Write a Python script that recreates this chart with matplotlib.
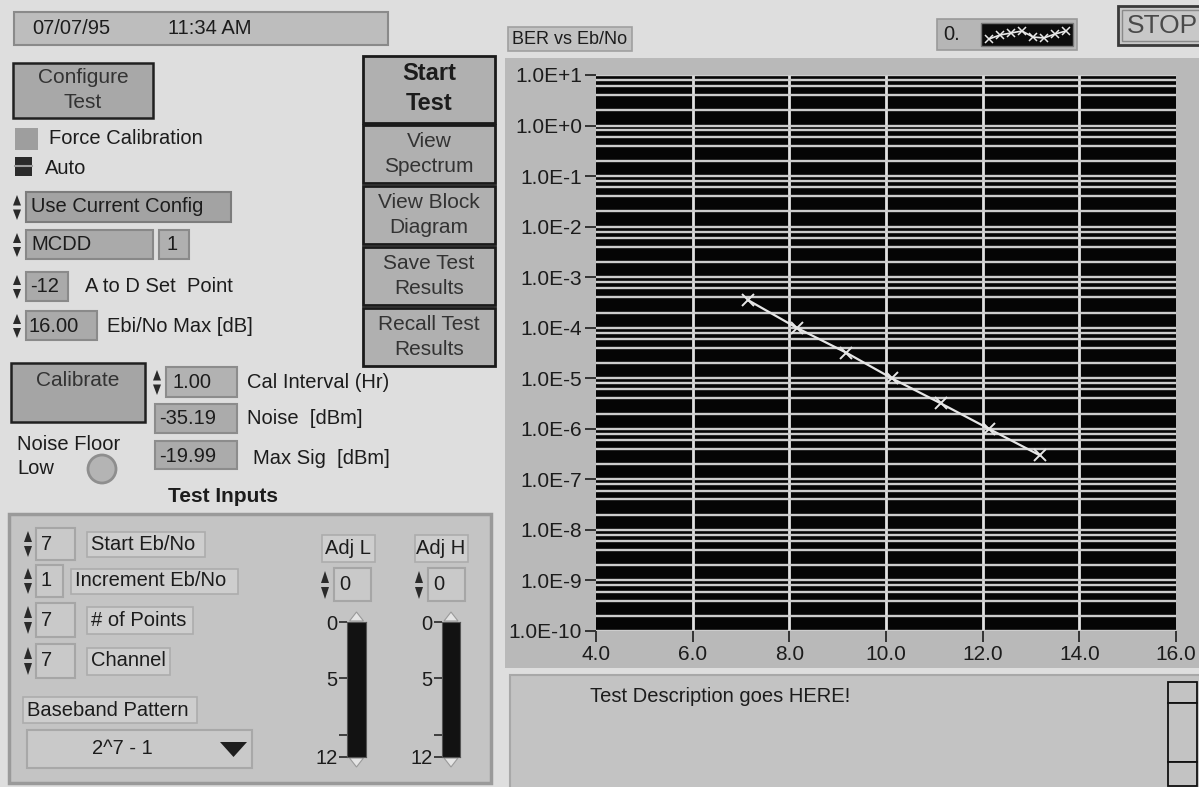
import numpy as np
import matplotlib
matplotlib.use("Agg")
import matplotlib.pyplot as plt
import matplotlib.patches as mpatches
from matplotlib import font_manager
from matplotlib.ticker import FixedLocator, FuncFormatter, NullFormatter

eb_no = [7.15, 8.15, 9.18, 10.12, 11.13, 12.13, 13.18]
ber = [3.5e-4, 1.0e-4, 3.2e-5, 1.0e-5, 3.2e-6, 1.0e-6, 3.0e-7]

x_ticks = [4.0, 6.0, 8.0, 10.0, 12.0, 14.0, 16.0]
y_exponents = list(range(1, -11, -1))
minor_subs = [2, 4, 6, 8]

slider_ticks = [0, 5, 10, 12]
slider_labels = ["0", "5", "", "12"]

side_buttons = ["View\nSpectrum", "View Block\nDiagram", "Save Test\nResults", "Recall Test\nResults"]
input_values = ["7", "1", "7", "7"]
input_names = ["Start Eb/No", "Increment Eb/No", "# of Points", "Channel"]

W, H = 1199, 787
BG = "#dedede"
PANEL = "#b9b9b9"
BTN = "#a8a8a8"
FIELD = "#b2b2b2"
INPUTS = "#c4c4c4"
LABELBOX = "#cecece"
INK = "#1c1c1c"

FONT = "Liberation Sans"
names = {f.name for f in font_manager.fontManager.ttflist}
NARROW = "Liberation Sans Narrow" if "Liberation Sans Narrow" in names else FONT
plt.rcParams["font.family"] = [FONT, "DejaVu Sans"]

fig = plt.figure(figsize=(W / 100, H / 100), dpi=100)
fig.patch.set_facecolor(BG)
ui = fig.add_axes([0, 0, 1, 1])
ui.set_xlim(0, W)
ui.set_ylim(H, 0)
ui.axis("off")


def rect(x0, y0, x1, y1, fc, ec="#6a6a6a", lw=1.0, z=1):
    ui.add_patch(mpatches.Rectangle((x0, y0), x1 - x0, y1 - y0, facecolor=fc,
                                    edgecolor=ec, linewidth=lw, zorder=z))


def label(x, y, s, size=14.5, ha="left", weight="normal", color=INK, family=None, ls=1.05):
    ui.text(x, y, s, fontsize=size, ha=ha, va="center", fontweight=weight,
            color=color, family=family or FONT, zorder=6, linespacing=ls)


def spinner(x, y0, y1):
    ym = (y0 + y1) / 2
    for tip, base in ((y0 + 3, ym - 2), (y1 - 3, ym + 2)):
        ui.add_patch(mpatches.Polygon([(x - 4, base), (x + 4, base), (x, tip)],
                                      closed=True, fc="#2a2a2a", ec="none", zorder=4))


def to_fig(x0, y0, x1, y1):
    return [x0 / W, 1 - y1 / H, (x1 - x0) / W, (y1 - y0) / H]


# ---- left column
rect(14, 12, 388, 45, "#bdbdbd", ec="#8a8a8a", lw=1.5)
label(32, 28, "07/07/95")
label(168, 28, "11:34 AM")

rect(13, 63, 153, 118, BTN, ec="#202020", lw=1.8)
label(83, 90, "Configure\nTest", ha="center", color="#333333", size=15, ls=1.4)

rect(15, 128, 38, 150, "#9e9e9e", ec="none")
label(49, 139, "Force Calibration")
rect(15, 157, 32, 176, "#2b2b2b", ec="none")
ui.plot([15, 32], [166, 166], color="#9e9e9e", lw=1.5, zorder=3)
label(45, 168, "Auto")

spinner(17, 192, 223)
rect(26, 192, 231, 222, "#a3a3a3", ec="#7c7c7c", lw=1.5)
label(31, 207, "Use Current Config")

spinner(17, 230, 260)
rect(26, 230, 153, 259, "#aaaaaa", ec="#888888", lw=1.5)
label(31, 245, "MCDD")
rect(159, 230, 189, 259, "#b0b0b0", ec="#8a8a8a", lw=1.5)
label(166, 245, "1")

spinner(17, 272, 302)
rect(26, 272, 68, 301, "#aaaaaa", ec="#8a8a8a", lw=1.5)
label(30, 287, "-12")
label(85, 287, "A to D Set  Point")

spinner(17, 311, 341)
rect(26, 311, 97, 340, "#aaaaaa", ec="#8a8a8a", lw=1.5)
label(29, 326, "16.00")
label(107, 326, "Ebi/No Max [dB]")

rect(11, 363, 145, 422, "#a5a5a5", ec="#202020", lw=1.8)
label(78, 380, "Calibrate", ha="center", color="#333333", size=15)

spinner(157, 367, 398)
rect(166, 367, 237, 397, FIELD, ec="#8c8c8c", lw=1.5)
label(172, 383, "1.00")
label(247, 383, "Cal Interval (Hr)")
rect(155, 404, 237, 433, "#ababab", ec="#8c8c8c", lw=1.5)
label(159, 419, "-35.19")
label(247, 419, "Noise  [dBm]")
rect(155, 441, 237, 469, "#ababab", ec="#8c8c8c", lw=1.5)
label(159, 456, "-19.99")
label(253, 458, "Max Sig  [dBm]")

label(17, 445, "Noise Floor")
label(17, 468, "Low")
ui.add_patch(mpatches.Circle((102, 469), 14, fc="#b4b4b4", ec="#8e8e8e", lw=2, zorder=3))
label(223, 497, "Test Inputs", ha="center", weight="bold", size=15)

# buttons column
rect(363, 56, 495, 123, "#b0b0b0", ec="#1a1a1a", lw=2)
label(429, 74, "Start", ha="center", weight="bold", size=17)
label(429, 104, "Test", ha="center", weight="bold", size=17)
for i, txt in enumerate(side_buttons):
    y0 = 125 + i * 61
    rect(363, y0, 495, y0 + 58, "#b0b0b0", ec="#1a1a1a", lw=2)
    label(429, y0 + 29, txt, ha="center", color="#333333", size=15, ls=1.4)

# ---- test inputs cluster
rect(9, 514, 491, 783, INPUTS, ec="#9a9a9a", lw=2.5)
rows = [(528, 560), (565, 597), (603, 637), (644, 678)]
label_len = {"Start Eb/No": 118, "Increment Eb/No": 167, "# of Points": 106, "Channel": 83}
for (y0, y1), val, name in zip(rows, input_values, input_names):
    spinner(28, y0, y1)
    short = name.startswith("Inc")
    bx1 = 63 if short else 75
    rect(36, y0, bx1, y1, "#c9c9c9", ec="#a6a6a6", lw=1.5)
    label(41, (y0 + y1) / 2, val)
    lx0 = bx1 + 8 if short else 87
    rect(lx0, y0 + 4, lx0 + label_len[name], y1 - 3, LABELBOX, ec="#adadad", lw=1.2)
    label(lx0 + 4, (y0 + y1) / 2, name)

rect(23, 697, 197, 723, LABELBOX, ec="#adadad", lw=1.2)
label(27, 710, "Baseband Pattern")
rect(27, 730, 252, 768, "#c9c9c9", ec="#a8a8a8", lw=1.5)
label(122, 748, "2^7 - 1", ha="center")
ui.add_patch(mpatches.Polygon([(220, 742), (247, 742), (233.5, 757)], closed=True,
                              fc="#1e1e1e", ec="none", zorder=4))

for lx, name, sx, bar in ((322, "Adj L", 325, (347, 366)), (415, "Adj H", 419, (442, 460))):
    rect(lx, 535, lx + 53, 562, LABELBOX, ec="#adadad", lw=1.2)
    label(lx + 26, 548, name, ha="center")
    spinner(sx, 568, 602)
    rect(sx + 9, 568, sx + 46, 601, "#c9c9c9", ec="#a6a6a6", lw=1.5)
    label(sx + 14, 585, "0")
    sax = fig.add_axes(to_fig(bar[0], 622, bar[1], 757))
    sax.set_facecolor("#121212")
    sax.set_ylim(12, 0)
    sax.set_xticks([])
    sax.set_yticks(slider_ticks)
    sax.set_yticklabels(slider_labels)
    sax.tick_params(axis="y", length=6, width=1.3, color="#333333", labelsize=14.5,
                    labelcolor=INK, pad=1)
    for s in sax.spines.values():
        s.set_color("#555555")
    cx = (bar[0] + bar[1]) / 2
    ui.add_patch(mpatches.Polygon([(cx - 7, 621), (cx + 7, 621), (cx, 612)], closed=True,
                                  fc="#e4e4e4", ec="#9a9a9a", lw=0.8, zorder=4))
    ui.add_patch(mpatches.Polygon([(cx - 7, 758), (cx + 7, 758), (cx, 767)], closed=True,
                                  fc="#e4e4e4", ec="#9a9a9a", lw=0.8, zorder=4))

# ---- graph panel
rect(505, 58, W + 2, 668, PANEL, ec="none")
rect(508, 27, 632, 51, "#c2c2c2", ec="#a0a0a0", lw=1.2)
label(512, 39, "BER vs Eb/No", family=NARROW, size=13)

# plot legend
rect(937, 19, 1077, 50, "#b6b6b6", ec="#9a9a9a", lw=1.2)
label(943, 35, "0.", family=NARROW)
rect(981, 23, 1073, 46, "#0c0c0c", ec="#777777", lw=1)
lx = np.linspace(989, 1066, 8)
ly = 35 + np.array([4, 0, -2, -4, 2, 3, -1, -4])
ui.plot(lx, ly, color="#e8e8e8", lw=1.2, marker="x", ms=6, mew=1.1, zorder=5)

# STOP button
rect(1118, 6, W + 3, 45, "#c8c8c8", ec="#3a3a3a", lw=2)
rect(1122, 10, W + 3, 41, "#c8c8c8", ec="#8a8a8a", lw=1)
label(1127, 26, "STOP", size=19, color="#4a4a4a", family=NARROW)

# description box
rect(510, 675, W + 2, H + 2, "#c3c3c3", ec="#a8a8a8", lw=1.5)
label(590, 697, "Test Description goes HERE!", family=NARROW, size=14.5)
rect(1168, 682, 1197, 703, "#c3c3c3", ec="#111111", lw=1.3, z=3)
rect(1168, 703, 1197, 762, "#c3c3c3", ec="#111111", lw=1.3, z=3)
rect(1168, 762, 1197, 786, "#c3c3c3", ec="#111111", lw=1.3, z=3)

# ---- BER graph
ax = fig.add_axes(to_fig(596, 75, 1176, 631))
ax.set_facecolor("#050505")
ax.set_yscale("log")
ax.set_xlim(4, 16)
ax.set_ylim(1e-10, 1e1)
ax.yaxis.set_major_locator(FixedLocator([10.0 ** e for e in y_exponents]))
ax.yaxis.set_major_formatter(FuncFormatter(lambda v, p: f"1.0E{int(round(np.log10(v))):+d}"))
ax.yaxis.set_minor_locator(FixedLocator([m * 10.0 ** e for e in range(-10, 1) for m in minor_subs]))
ax.yaxis.set_minor_formatter(NullFormatter())
ax.set_xticks(x_ticks)
ax.set_xticklabels([f"{t:.1f}" for t in x_ticks])
ax.tick_params(axis="y", which="minor", length=0)
ax.tick_params(axis="both", which="major", length=8, width=1.4, color="#333333",
               labelsize=15, labelcolor=INK, pad=2)
for t in ax.get_xticklabels() + ax.get_yticklabels():
    t.set_family(NARROW)
ax.grid(True, axis="y", which="both", color="#cdcdcd", lw=1.7)
ax.grid(True, axis="x", which="major", color="#e2e2e2", lw=2.0)
gl = ax.xaxis.get_gridlines()
gl[0].set_visible(False)
gl[-1].set_visible(False)
for s in ax.spines.values():
    s.set_visible(False)
ax.plot(eb_no, ber, color="#e6e6e6", lw=1.6, marker="x", ms=9, mew=1.4, zorder=5)

fig.savefig("out.png", dpi=100, facecolor=fig.get_facecolor())
